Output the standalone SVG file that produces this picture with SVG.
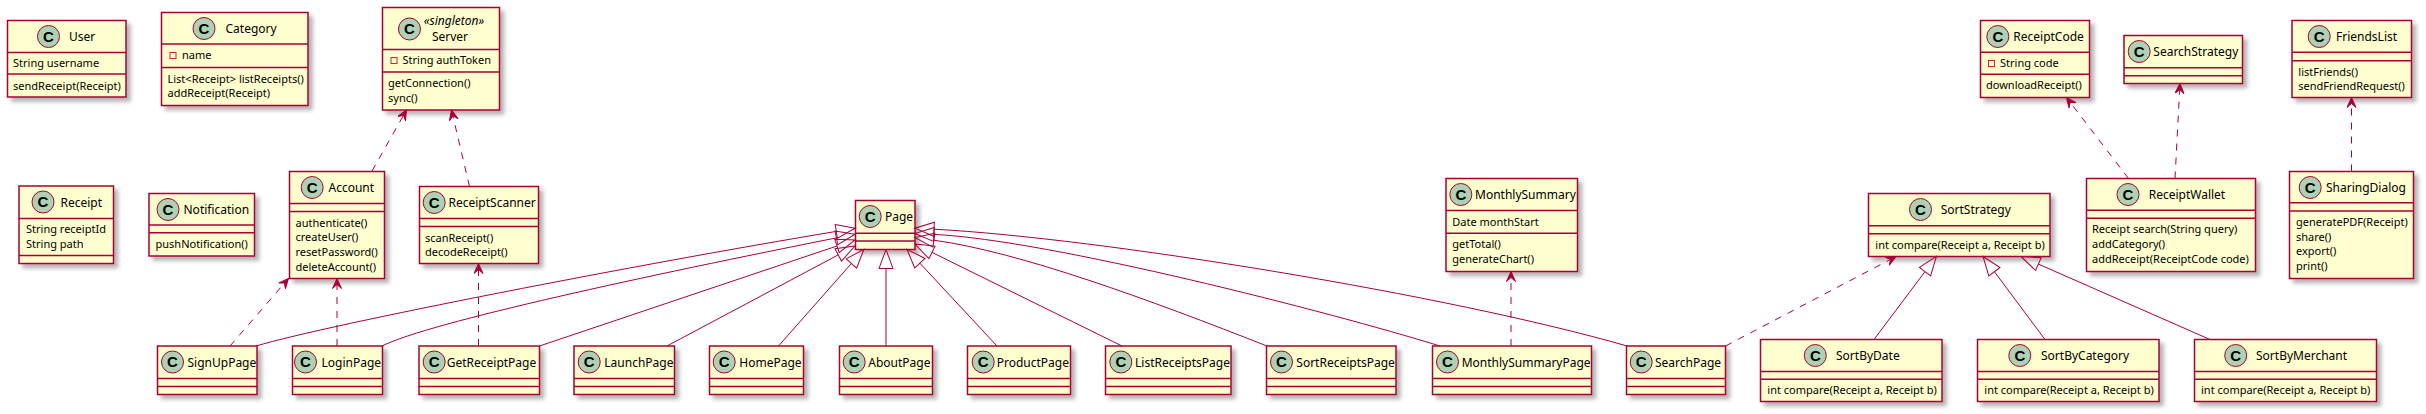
<svg xmlns="http://www.w3.org/2000/svg" width="2426" height="414" viewBox="0 0 2426 414">
<style>
.box{fill:#FEFECE;stroke:#A80036;stroke-width:1.5;filter:url(#sh)}
.sep{stroke:#A80036;stroke-width:1.5}
.ci{fill:#ADD1B2;stroke:#A80036;stroke-width:1}
.cl{font-family:"Liberation Sans",Arial,sans-serif;font-weight:bold;font-size:15px;fill:#000;text-anchor:middle}
.nm{font-family:"Noto Sans","Liberation Sans",sans-serif;font-size:12px;fill:#000}
.mb{font-family:"Noto Sans","Liberation Sans",sans-serif;font-size:11px;fill:#000}
.st{font-family:"Noto Sans","Liberation Sans",sans-serif;font-size:12px;font-style:italic;fill:#000;text-anchor:middle}
.pv{fill:none;stroke:#C82930;stroke-width:1}
.gen{fill:none;stroke:#A80036;stroke-width:1;marker-end:url(#tri)}
.dep{fill:none;stroke:#A80036;stroke-width:1;stroke-dasharray:7,7;marker-end:url(#arr)}
</style>
<defs>
<filter id="sh" x="-10%" y="-10%" width="130%" height="140%">
<feGaussianBlur in="SourceAlpha" stdDeviation="2"/>
<feOffset dx="4" dy="4"/>
<feComponentTransfer><feFuncA type="linear" slope="0.3"/></feComponentTransfer>
<feMerge><feMergeNode/><feMergeNode in="SourceGraphic"/></feMerge>
</filter>
<marker id="tri" markerUnits="userSpaceOnUse" markerWidth="24" markerHeight="18" refX="1" refY="8" orient="auto">
<path d="M1,1 L20,8 L1,15 Z" fill="none" stroke="#A80036" stroke-width="1"/>
</marker>
<marker id="arr" markerUnits="userSpaceOnUse" markerWidth="13" markerHeight="11" refX="10" refY="5" orient="auto">
<path d="M0,0.5 L10,5 L0,9.5 L4,5 Z" fill="#A80036" stroke="#A80036" stroke-width="1"/>
</marker>
</defs>
<rect width="2426" height="414" fill="#FFFFFF"/>

<g id="User">
<rect class="box" x="7.5" y="20.5" width="118.5" height="76.5"/>
<line class="sep" x1="7.5" y1="52.5" x2="126" y2="52.5"/><line class="sep" x1="7.5" y1="74" x2="126" y2="74"/>
<circle class="ci" cx="48.5" cy="36.5" r="11"/><text class="cl" x="48.5" y="41.8">C</text>
<text class="nm" x="69" y="41">User</text>
<text class="mb" x="13" y="67">String username</text>
<text class="mb" x="13" y="89.5">sendReceipt(Receipt)</text>
</g>

<g id="Category">
<rect class="box" x="161.5" y="12.5" width="146.5" height="93"/>
<line class="sep" x1="161.5" y1="44" x2="308" y2="44"/><line class="sep" x1="161.5" y1="67.5" x2="308" y2="67.5"/>
<circle class="ci" cx="204" cy="28.5" r="11"/><text class="cl" x="204" y="33.8">C</text>
<text class="nm" x="225.5" y="33">Category</text>
<rect class="pv" x="170" y="52.5" width="6" height="6"/>
<text class="mb" x="182" y="58.8">name</text>
<text class="mb" x="167.5" y="82.5">List&lt;Receipt&gt; listReceipts()</text>
<text class="mb" x="167.5" y="97.2">addReceipt(Receipt)</text>
</g>

<g id="Server">
<rect class="box" x="382.5" y="7.5" width="117" height="102.5"/>
<line class="sep" x1="382.5" y1="49.5" x2="499.5" y2="49.5"/><line class="sep" x1="382.5" y1="72" x2="499.5" y2="72"/>
<circle class="ci" cx="409.5" cy="29" r="11"/><text class="cl" x="409.5" y="34.3">C</text>
<text class="st" x="454" y="25">«singleton»</text>
<text class="nm" x="450" y="40.5" text-anchor="middle">Server</text>
<rect class="pv" x="391" y="57.5" width="6" height="6"/>
<text class="mb" x="402.5" y="63.8">String authToken</text>
<text class="mb" x="388" y="87">getConnection()</text>
<text class="mb" x="388" y="101.7">sync()</text>
</g>

<g id="Receipt">
<rect class="box" x="19" y="186" width="94.5" height="77.5"/>
<line class="sep" x1="19" y1="218.5" x2="113.5" y2="218.5"/><line class="sep" x1="19" y1="255.5" x2="113.5" y2="255.5"/>
<circle class="ci" cx="43" cy="202" r="11"/><text class="cl" x="43" y="207.3">C</text>
<text class="nm" x="60.5" y="206.5">Receipt</text>
<text class="mb" x="26" y="233.3">String receiptId</text>
<text class="mb" x="26" y="248">String path</text>
</g>

<g id="Notification">
<rect class="box" x="149" y="193.5" width="105.5" height="62.5"/>
<line class="sep" x1="149" y1="225" x2="254.5" y2="225"/><line class="sep" x1="149" y1="232.8" x2="254.5" y2="232.8"/>
<circle class="ci" cx="168" cy="209.5" r="11"/><text class="cl" x="168" y="214.8">C</text>
<text class="nm" x="183.5" y="214">Notification</text>
<text class="mb" x="155.5" y="247.8">pushNotification()</text>
</g>

<g id="Account">
<rect class="box" x="289.5" y="171.5" width="95" height="107"/>
<line class="sep" x1="289.5" y1="203.5" x2="384.5" y2="203.5"/><line class="sep" x1="289.5" y1="211.5" x2="384.5" y2="211.5"/>
<circle class="ci" cx="312.2" cy="187.5" r="11"/><text class="cl" x="312.2" y="192.8">C</text>
<text class="nm" x="328.5" y="192">Account</text>
<text class="mb" x="295.5" y="226.5">authenticate()</text>
<text class="mb" x="295.5" y="241.2">createUser()</text>
<text class="mb" x="295.5" y="255.9">resetPassword()</text>
<text class="mb" x="295.5" y="270.6">deleteAccount()</text>
</g>

<g id="ReceiptScanner">
<rect class="box" x="419.5" y="186.5" width="119" height="77"/>
<line class="sep" x1="419.5" y1="218.5" x2="538.5" y2="218.5"/><line class="sep" x1="419.5" y1="226.5" x2="538.5" y2="226.5"/>
<circle class="ci" cx="434.2" cy="202.5" r="11"/><text class="cl" x="434.2" y="207.8">C</text>
<text class="nm" x="448.5" y="207">ReceiptScanner</text>
<text class="mb" x="425" y="241.5">scanReceipt()</text>
<text class="mb" x="425" y="256.2">decodeReceipt()</text>
</g>

<g id="Page">
<rect class="box" x="855.5" y="200.5" width="59.5" height="49"/>
<line class="sep" x1="855.5" y1="233.3" x2="915" y2="233.3"/><line class="sep" x1="855.5" y1="241" x2="915" y2="241"/>
<circle class="ci" cx="870.2" cy="216.5" r="11"/><text class="cl" x="870.2" y="221.8">C</text>
<text class="nm" x="885" y="221">Page</text>
</g>

<g id="SignUpPage">
<rect class="box" x="157.5" y="346" width="99.5" height="48.5"/>
<line class="sep" x1="157.5" y1="378.5" x2="257" y2="378.5"/><line class="sep" x1="157.5" y1="386.5" x2="257" y2="386.5"/>
<circle class="ci" cx="172.5" cy="362" r="11"/><text class="cl" x="172.5" y="367.3">C</text>
<text class="nm" x="187.5" y="366.5">SignUpPage</text>
</g>

<g id="LoginPage">
<rect class="box" x="292.5" y="346" width="90" height="48.5"/>
<line class="sep" x1="292.5" y1="378.5" x2="382.5" y2="378.5"/><line class="sep" x1="292.5" y1="386.5" x2="382.5" y2="386.5"/>
<circle class="ci" cx="305.5" cy="362" r="11"/><text class="cl" x="305.5" y="367.3">C</text>
<text class="nm" x="321.5" y="366.5">LoginPage</text>
</g>

<g id="GetReceiptPage">
<rect class="box" x="419" y="346" width="120.5" height="48.5"/>
<line class="sep" x1="419" y1="378.5" x2="539.5" y2="378.5"/><line class="sep" x1="419" y1="386.5" x2="539.5" y2="386.5"/>
<circle class="ci" cx="434.2" cy="362" r="11"/><text class="cl" x="434.2" y="367.3">C</text>
<text class="nm" x="446.7" y="366.5">GetReceiptPage</text>
</g>

<g id="LaunchPage">
<rect class="box" x="574" y="346" width="100.5" height="48.5"/>
<line class="sep" x1="574" y1="378.5" x2="674.5" y2="378.5"/><line class="sep" x1="574" y1="386.5" x2="674.5" y2="386.5"/>
<circle class="ci" cx="589.2" cy="362" r="11"/><text class="cl" x="589.2" y="367.3">C</text>
<text class="nm" x="604.3" y="366.5">LaunchPage</text>
</g>

<g id="HomePage">
<rect class="box" x="709.5" y="346" width="94" height="48.5"/>
<line class="sep" x1="709.5" y1="378.5" x2="803.5" y2="378.5"/><line class="sep" x1="709.5" y1="386.5" x2="803.5" y2="386.5"/>
<circle class="ci" cx="724.2" cy="362" r="11"/><text class="cl" x="724.2" y="367.3">C</text>
<text class="nm" x="739.3" y="366.5">HomePage</text>
</g>

<g id="AboutPage">
<rect class="box" x="839.5" y="346" width="93" height="48.5"/>
<line class="sep" x1="839.5" y1="378.5" x2="932.5" y2="378.5"/><line class="sep" x1="839.5" y1="386.5" x2="932.5" y2="386.5"/>
<circle class="ci" cx="854.2" cy="362" r="11"/><text class="cl" x="854.2" y="367.3">C</text>
<text class="nm" x="868.3" y="366.5">AboutPage</text>
</g>

<g id="ProductPage">
<rect class="box" x="967.5" y="346" width="103" height="48.5"/>
<line class="sep" x1="967.5" y1="378.5" x2="1070.5" y2="378.5"/><line class="sep" x1="967.5" y1="386.5" x2="1070.5" y2="386.5"/>
<circle class="ci" cx="983.2" cy="362" r="11"/><text class="cl" x="983.2" y="367.3">C</text>
<text class="nm" x="996.7" y="366.5">ProductPage</text>
</g>

<g id="ListReceiptsPage">
<rect class="box" x="1105.5" y="346" width="125.5" height="48.5"/>
<line class="sep" x1="1105.5" y1="378.5" x2="1231" y2="378.5"/><line class="sep" x1="1105.5" y1="386.5" x2="1231" y2="386.5"/>
<circle class="ci" cx="1120.8" cy="362" r="11"/><text class="cl" x="1120.8" y="367.3">C</text>
<text class="nm" x="1135" y="366.5">ListReceiptsPage</text>
</g>

<g id="SortReceiptsPage">
<rect class="box" x="1266.5" y="346" width="129.5" height="48.5"/>
<line class="sep" x1="1266.5" y1="378.5" x2="1396" y2="378.5"/><line class="sep" x1="1266.5" y1="386.5" x2="1396" y2="386.5"/>
<circle class="ci" cx="1281.5" cy="362" r="11"/><text class="cl" x="1281.5" y="367.3">C</text>
<text class="nm" x="1296.3" y="366.5">SortReceiptsPage</text>
</g>

<g id="MonthlySummaryPage">
<rect class="box" x="1432.5" y="346" width="159" height="48.5"/>
<line class="sep" x1="1432.5" y1="378.5" x2="1591.5" y2="378.5"/><line class="sep" x1="1432.5" y1="386.5" x2="1591.5" y2="386.5"/>
<circle class="ci" cx="1447.5" cy="362" r="11"/><text class="cl" x="1447.5" y="367.3">C</text>
<text class="nm" x="1461.7" y="366.5">MonthlySummaryPage</text>
</g>

<g id="SearchPage">
<rect class="box" x="1626.5" y="346" width="99" height="48.5"/>
<line class="sep" x1="1626.5" y1="378.5" x2="1725.5" y2="378.5"/><line class="sep" x1="1626.5" y1="386.5" x2="1725.5" y2="386.5"/>
<circle class="ci" cx="1641.2" cy="362" r="11"/><text class="cl" x="1641.2" y="367.3">C</text>
<text class="nm" x="1655" y="366.5">SearchPage</text>
</g>

<g id="MonthlySummary">
<rect class="box" x="1446" y="178.5" width="131.5" height="93"/>
<line class="sep" x1="1446" y1="210.5" x2="1577.5" y2="210.5"/><line class="sep" x1="1446" y1="233.3" x2="1577.5" y2="233.3"/>
<circle class="ci" cx="1460.8" cy="194.5" r="11"/><text class="cl" x="1460.8" y="199.8">C</text>
<text class="nm" x="1475" y="199">MonthlySummary</text>
<text class="mb" x="1452.3" y="225.5">Date monthStart</text>
<text class="mb" x="1452.3" y="248.3">getTotal()</text>
<text class="mb" x="1452.3" y="263">generateChart()</text>
</g>

<g id="SortStrategy">
<rect class="box" x="1868.5" y="193.5" width="181.5" height="63"/>
<line class="sep" x1="1868.5" y1="225.7" x2="2050" y2="225.7"/><line class="sep" x1="1868.5" y1="233.7" x2="2050" y2="233.7"/>
<circle class="ci" cx="1920.5" cy="209.5" r="11"/><text class="cl" x="1920.5" y="214.8">C</text>
<text class="nm" x="1940.7" y="214">SortStrategy</text>
<text class="mb" x="1875.3" y="248.7">int compare(Receipt a, Receipt b)</text>
</g>

<g id="SortByDate">
<rect class="box" x="1760.5" y="339.5" width="181.5" height="62"/>
<line class="sep" x1="1760.5" y1="371.5" x2="1942" y2="371.5"/><line class="sep" x1="1760.5" y1="379.3" x2="1942" y2="379.3"/>
<circle class="ci" cx="1815.3" cy="355.5" r="11"/><text class="cl" x="1815.3" y="360.8">C</text>
<text class="nm" x="1836" y="360">SortByDate</text>
<text class="mb" x="1767.3" y="394.3">int compare(Receipt a, Receipt b)</text>
</g>

<g id="SortByCategory">
<rect class="box" x="1977.5" y="339.5" width="181.5" height="62"/>
<line class="sep" x1="1977.5" y1="371.5" x2="2159" y2="371.5"/><line class="sep" x1="1977.5" y1="379.3" x2="2159" y2="379.3"/>
<circle class="ci" cx="2019.8" cy="355.5" r="11"/><text class="cl" x="2019.8" y="360.8">C</text>
<text class="nm" x="2041" y="360">SortByCategory</text>
<text class="mb" x="1984.3" y="394.3">int compare(Receipt a, Receipt b)</text>
</g>

<g id="SortByMerchant">
<rect class="box" x="2194.5" y="339.5" width="182" height="62"/>
<line class="sep" x1="2194.5" y1="371.5" x2="2376.5" y2="371.5"/><line class="sep" x1="2194.5" y1="379.3" x2="2376.5" y2="379.3"/>
<circle class="ci" cx="2235.7" cy="355.5" r="11"/><text class="cl" x="2235.7" y="360.8">C</text>
<text class="nm" x="2256" y="360">SortByMerchant</text>
<text class="mb" x="2201" y="394.3">int compare(Receipt a, Receipt b)</text>
</g>

<g id="ReceiptWallet">
<rect class="box" x="2086.5" y="178.5" width="169" height="93"/>
<line class="sep" x1="2086.5" y1="210.3" x2="2255.5" y2="210.3"/><line class="sep" x1="2086.5" y1="218.3" x2="2255.5" y2="218.3"/>
<circle class="ci" cx="2128" cy="194.5" r="11"/><text class="cl" x="2128" y="199.8">C</text>
<text class="nm" x="2148.7" y="199">ReceiptWallet</text>
<text class="mb" x="2092" y="233.3">Receipt search(String query)</text>
<text class="mb" x="2092" y="248">addCategory()</text>
<text class="mb" x="2092" y="262.7">addReceipt(ReceiptCode code)</text>
</g>

<g id="SharingDialog">
<rect class="box" x="2289.5" y="171.5" width="124" height="107"/>
<line class="sep" x1="2289.5" y1="202.7" x2="2413.5" y2="202.7"/><line class="sep" x1="2289.5" y1="211" x2="2413.5" y2="211"/>
<circle class="ci" cx="2310.2" cy="187.5" r="11"/><text class="cl" x="2310.2" y="192.8">C</text>
<text class="nm" x="2326" y="192">SharingDialog</text>
<text class="mb" x="2296" y="226">generatePDF(Receipt)</text>
<text class="mb" x="2296" y="240.7">share()</text>
<text class="mb" x="2296" y="255.4">export()</text>
<text class="mb" x="2296" y="270.1">print()</text>
</g>

<g id="ReceiptCode">
<rect class="box" x="1980.5" y="20.5" width="109" height="77"/>
<line class="sep" x1="1980.5" y1="52.3" x2="2089.5" y2="52.3"/><line class="sep" x1="1980.5" y1="74.3" x2="2089.5" y2="74.3"/>
<circle class="ci" cx="1997.8" cy="36.5" r="11"/><text class="cl" x="1997.8" y="41.8">C</text>
<text class="nm" x="2013.3" y="41">ReceiptCode</text>
<rect class="pv" x="1988.5" y="60.5" width="6" height="6"/>
<text class="mb" x="2000" y="66.8">String code</text>
<text class="mb" x="1986" y="89.3">downloadReceipt()</text>
</g>

<g id="SearchStrategy">
<rect class="box" x="2124" y="35.5" width="118.5" height="48"/>
<line class="sep" x1="2124" y1="67.7" x2="2242.5" y2="67.7"/><line class="sep" x1="2124" y1="75.7" x2="2242.5" y2="75.7"/>
<circle class="ci" cx="2139.2" cy="51.5" r="11"/><text class="cl" x="2139.2" y="56.8">C</text>
<text class="nm" x="2153.3" y="56">SearchStrategy</text>
</g>

<g id="FriendsList">
<rect class="box" x="2292" y="20.5" width="119.5" height="77"/>
<line class="sep" x1="2292" y1="52.3" x2="2411.5" y2="52.3"/><line class="sep" x1="2292" y1="60.7" x2="2411.5" y2="60.7"/>
<circle class="ci" cx="2319.2" cy="36.5" r="11"/><text class="cl" x="2319.2" y="41.8">C</text>
<text class="nm" x="2336" y="41">FriendsList</text>
<text class="mb" x="2298.3" y="75.7">listFriends()</text>
<text class="mb" x="2298.3" y="90.4">sendFriendRequest()</text>
</g>

<g id="connectors">
<path class="dep" d="M372,171 L406.5,110"/>
<path class="dep" d="M469.5,186.5 L451.5,110"/>
<path class="dep" d="M230,346 L288.5,278.5"/>
<path class="dep" d="M337,346 L337,278.5"/>
<path class="dep" d="M478.5,346 L478.5,263.5"/>
<path class="dep" d="M1511,346 L1511,271.5"/>
<path class="dep" d="M1725.5,346 L1896,256.5"/>
<path class="dep" d="M2128.5,178.5 L2066.5,97.5"/>
<path class="dep" d="M2175,178.5 L2180,83.5"/>
<path class="dep" d="M2351.5,171.5 L2351.5,97.5"/>
<path class="gen" d="M256,346 C330,324 640,264 836.3,231.4"/>
<path class="gen" d="M382,346 C430,322 650,275 836.4,237.9"/>
<path class="gen" d="M539.5,346 L837,246"/>
<path class="gen" d="M667,346 L838.2,254.9"/>
<path class="gen" d="M778.5,346 L851.4,263.5"/>
<path class="gen" d="M886,346 L886,268.5"/>
<path class="gen" d="M997,346 L919.9,263.2"/>
<path class="gen" d="M1122,346 L932,252.4"/>
<path class="gen" d="M1267,346 C1150,300 1020,252 933.9,240.2"/>
<path class="gen" d="M1440,346 C1330,312 1050,240 933.9,234.4"/>
<path class="gen" d="M1627,346 C1450,295 1100,238 934,229.2"/>
<path class="gen" d="M1874,339.5 L1925,271.6"/>
<path class="gen" d="M2045,339.5 L1994.4,271.7"/>
<path class="gen" d="M2210,339.5 L2038.4,264.1"/>
</g>
</svg>
